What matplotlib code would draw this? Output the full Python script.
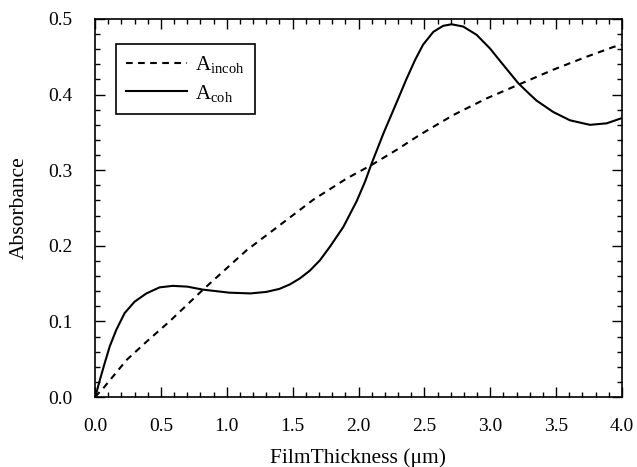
import matplotlib
matplotlib.use("Agg")
import matplotlib.pyplot as plt
from matplotlib.ticker import MultipleLocator, FormatStrFormatter

plt.rcParams['font.family'] = ['Liberation Serif', 'DejaVu Serif']
plt.rcParams['mathtext.fontset'] = 'custom'
plt.rcParams['mathtext.rm'] = 'Liberation Serif'
plt.rcParams['mathtext.it'] = 'Liberation Serif:italic'

# Coherent absorbance (solid)
thickness_coh = [0.0, 0.01, 0.036, 0.074, 0.112, 0.162, 0.225, 0.30, 0.39, 0.49,
                 0.59, 0.70, 0.82, 0.92, 1.02, 1.18, 1.30, 1.40, 1.48, 1.556,
                 1.63, 1.708, 1.784, 1.885, 1.986, 2.05, 2.10, 2.19, 2.30, 2.365,
                 2.43, 2.49, 2.568, 2.643, 2.707, 2.795, 2.897, 2.998, 3.10, 3.213,
                 3.29, 3.352, 3.478, 3.605, 3.757, 3.884, 4.0]
a_coh = [0.0, 0.005, 0.022, 0.045, 0.067, 0.089, 0.111, 0.126, 0.137, 0.145,
         0.147, 0.146, 0.142, 0.140, 0.138, 0.137, 0.139, 0.143, 0.149, 0.157,
         0.167, 0.181, 0.199, 0.225, 0.259, 0.285, 0.309, 0.349, 0.394, 0.421,
         0.446, 0.466, 0.483, 0.491, 0.493, 0.490, 0.479, 0.461, 0.439, 0.415,
         0.402, 0.392, 0.377, 0.366, 0.360, 0.362, 0.369]

# Incoherent absorbance (dashed)
thickness_incoh = [0.0, 0.06, 0.24, 0.39, 0.566, 0.82, 1.15, 1.404, 1.657, 1.91,
                   2.10, 2.29, 2.467, 2.72, 2.973, 3.226, 3.479, 3.73, 3.935, 4.0]
a_incoh = [0.0, 0.011, 0.049, 0.073, 0.100, 0.142, 0.194, 0.2275, 0.261, 0.289,
           0.307, 0.327, 0.347, 0.373, 0.395, 0.414, 0.433, 0.450, 0.463, 0.466]

fig = plt.figure(figsize=(6.37, 4.67), dpi=100)
ax = fig.add_axes([95/637, 1-397/467, (622-95)/637, (397-19)/467])

ax.plot(thickness_incoh, a_incoh, color='black', lw=1.5, linestyle=(0, (3.2, 2.6)),
        label=r'A$_{\mathrm{incoh}}$')
ax.plot(thickness_coh, a_coh, color='black', lw=1.5, linestyle='-',
        label=r'A$_{\mathrm{coh}}$')

ax.set_xlim(0, 4)
ax.set_ylim(0, 0.5)
ax.xaxis.set_major_locator(MultipleLocator(0.5))
ax.xaxis.set_minor_locator(MultipleLocator(0.1))
ax.yaxis.set_major_locator(MultipleLocator(0.1))
ax.yaxis.set_minor_locator(MultipleLocator(0.02))
ax.xaxis.set_major_formatter(FormatStrFormatter('%.1f'))
ax.yaxis.set_major_formatter(FormatStrFormatter('%.1f'))

ax.tick_params(which='both', direction='in', top=True, right=True, width=1.0,
               labelsize=14)
ax.tick_params(axis='x', which='major', length=7, pad=15)
ax.tick_params(axis='y', which='major', length=7, pad=16)
ax.tick_params(which='minor', length=3.5)
for s in ax.spines.values():
    s.set_linewidth(1.2)

ax.set_xlabel('FilmThickness (\u03bcm)', fontsize=15.5, labelpad=10)
ax.set_ylabel('Absorbance', fontsize=15.5, labelpad=14)

leg = ax.legend(loc='upper left', bbox_to_anchor=(21/527, 1-25/378), fontsize=15,
                frameon=True, fancybox=False, edgecolor='black', framealpha=1,
                handlelength=2.9, borderpad=0.5, labelspacing=0.35, handletextpad=0.4,
                borderaxespad=0)
leg.get_frame().set_linewidth(1.2)

fig.savefig('out.png', dpi=100)
